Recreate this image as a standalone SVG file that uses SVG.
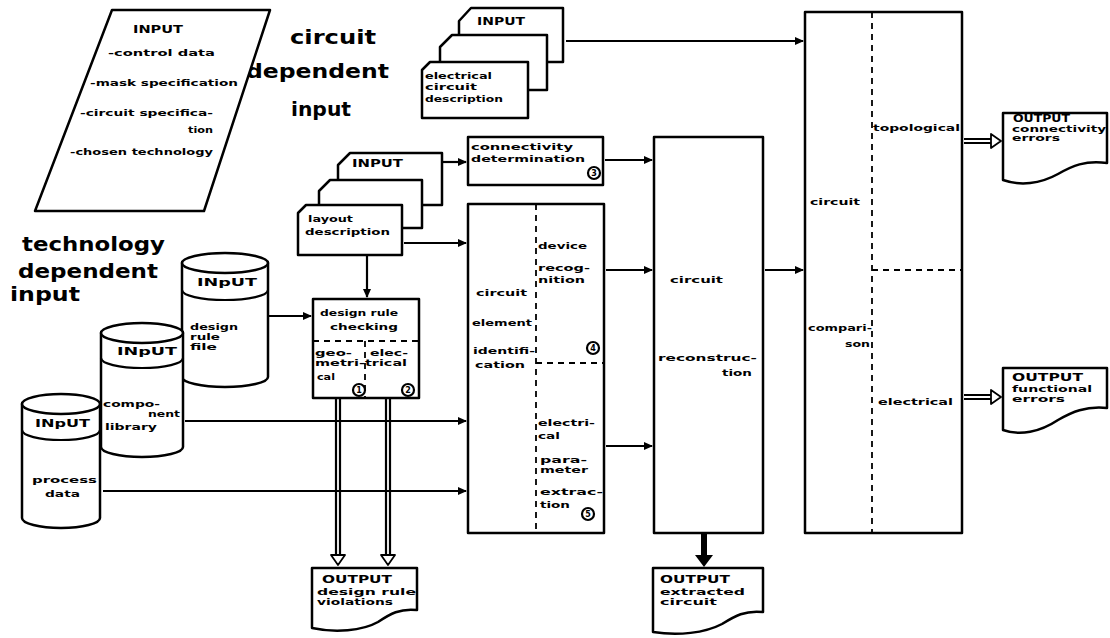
<svg xmlns="http://www.w3.org/2000/svg" width="1110" height="638" viewBox="0 0 1110 638">
<defs>
<style>
.o{fill:#fff;stroke:#000;stroke-width:2.5;stroke-linejoin:round}
.l{fill:none;stroke:#000;stroke-width:2.2}
.d{fill:none;stroke:#000;stroke-width:1.8;stroke-dasharray:6 5}
.w{fill:#fff;stroke:#000;stroke-width:1.8;stroke-linejoin:round}
text{font-family:"DejaVu Sans","Liberation Sans",sans-serif;font-weight:bold;fill:#000}
.s{font-size:9.5px}
.m{font-size:11px}
.b{font-size:20px}
.n{font-size:8px;text-anchor:middle}
.e{text-anchor:end}
.c{fill:#fff;stroke:#000;stroke-width:2.2}
</style>
<marker id="a" markerWidth="9" markerHeight="8" refX="8" refY="4" orient="auto" markerUnits="userSpaceOnUse"><path d="M0,0 L9,4 L0,8 Z" fill="#000"/></marker>
</defs>
<rect width="1110" height="638" fill="#fff"/>

<g id="title-circuit">
<text class="b" x="290" y="44" textLength="86" lengthAdjust="spacingAndGlyphs">circuit</text>
<text class="b" x="246" y="78" textLength="143" lengthAdjust="spacingAndGlyphs">dependent</text>
<text class="b" x="291" y="116" textLength="60" lengthAdjust="spacingAndGlyphs">input</text>
</g>
<g id="title-technology">
<text class="b" x="22" y="251" textLength="143" lengthAdjust="spacingAndGlyphs">technology</text>
<text class="b" x="18" y="278" textLength="140" lengthAdjust="spacingAndGlyphs">dependent</text>
<text class="b" x="10" y="301" textLength="70" lengthAdjust="spacingAndGlyphs">input</text>
</g>

<g id="input-general">
<path class="o" d="M112,10 L270,10 L204,211 L35,211 Z"/>
<text class="m" x="133" y="33" textLength="50" lengthAdjust="spacingAndGlyphs">INPUT</text>
<text class="s" x="108" y="56" textLength="107" lengthAdjust="spacingAndGlyphs">-control data</text>
<text class="s" x="90" y="86" textLength="148" lengthAdjust="spacingAndGlyphs">-mask specification</text>
<text class="s" x="80" y="116" textLength="133" lengthAdjust="spacingAndGlyphs">-circuit specifica-</text>
<text class="s e" x="213" y="133" textLength="25" lengthAdjust="spacingAndGlyphs">tion</text>
<text class="s" x="70" y="155" textLength="143" lengthAdjust="spacingAndGlyphs">-chosen technology</text>
</g>

<g id="connectors">
<line class="l" x1="566" y1="41" x2="803" y2="41" marker-end="url(#a)"/>
<line class="l" x1="443" y1="162" x2="466" y2="162" marker-end="url(#a)"/>
<line class="l" x1="605" y1="160" x2="652" y2="160" marker-end="url(#a)"/>
<line class="l" x1="404" y1="243" x2="466" y2="243" marker-end="url(#a)"/>
<line class="l" x1="367" y1="256" x2="367" y2="297" marker-end="url(#a)"/>
<line class="l" x1="268" y1="316" x2="311" y2="316" marker-end="url(#a)"/>
<line class="l" x1="606" y1="270" x2="652" y2="270" marker-end="url(#a)"/>
<line class="l" x1="606" y1="446" x2="652" y2="446" marker-end="url(#a)"/>
<line class="l" x1="765" y1="270" x2="803" y2="270" marker-end="url(#a)"/>
<path class="l" d="M336,399 V556 M340,399 V556 M386,399 V556 M390,399 V556" stroke-width="1.8"/>
<path class="w" d="M331,555 H345 L338,565 Z M381,555 H395 L388,565 Z"/>
<line class="l" x1="185" y1="421" x2="466" y2="421" marker-end="url(#a)"/>
<line class="l" x1="103" y1="491" x2="466" y2="491" marker-end="url(#a)"/>
<path class="l" d="M964,139 H992 M964,143 H992 M964,395 H992 M964,399 H992" stroke-width="1.8"/>
<path class="w" d="M991,134 L1001,141 L991,148 Z M991,390 L1001,397 L991,404 Z"/>
<rect x="701" y="534" width="6" height="22" fill="#000"/>
<path d="M695,555 H713 L704,567 Z" fill="#000"/>
</g>

<g id="input-electrical-circuit">
<path class="o" d="M459,21 L471,8 H563 V62 H459 Z"/>
<path class="o" d="M440,47 L452,35 H547 V90 H440 Z"/>
<path class="o" d="M422,70 L430,62 H528 V118 H422 Z"/>
<text class="m" x="477" y="25" textLength="48" lengthAdjust="spacingAndGlyphs">INPUT</text>
<text class="s" x="425" y="79" textLength="67" lengthAdjust="spacingAndGlyphs">electrical</text>
<text class="s" x="425" y="90" textLength="52" lengthAdjust="spacingAndGlyphs">circuit</text>
<text class="s" x="425" y="102" textLength="78" lengthAdjust="spacingAndGlyphs">description</text>
</g>

<g id="input-layout">
<path class="o" d="M338,165 L350,153 H442 V205 H338 Z"/>
<path class="o" d="M319,191 L330,180 H422 V228 H319 Z"/>
<path class="o" d="M298,213 L306,205 H402 V255 H298 Z"/>
<text class="m" x="352" y="167" textLength="51" lengthAdjust="spacingAndGlyphs">INPUT</text>
<text class="s" x="308" y="222" textLength="45" lengthAdjust="spacingAndGlyphs">layout</text>
<text class="s" x="305" y="235" textLength="85" lengthAdjust="spacingAndGlyphs">description</text>
</g>

<g id="connectivity">
<rect class="o" x="468" y="137" width="135" height="48"/>
<text class="s" x="471" y="150" textLength="102" lengthAdjust="spacingAndGlyphs">connectivity</text>
<text class="s" x="471" y="162" textLength="114" lengthAdjust="spacingAndGlyphs">determination</text>
<circle class="c" cx="594" cy="173" r="6"/><text class="n" x="594" y="176">3</text>
</g>

<g id="design-rule-file">
<path class="o" d="M182,263 V377 A43,10 0 0 0 268,377 V263 Z"/>
<ellipse class="o" cx="225" cy="263" rx="43" ry="10"/>
<path class="l" d="M182,290 A43,10 0 0 0 268,290"/>
<text class="m" x="197" y="286" textLength="60" lengthAdjust="spacingAndGlyphs">INpUT</text>
<text class="s" x="190" y="330" textLength="48" lengthAdjust="spacingAndGlyphs">design</text>
<text class="s" x="190" y="340" textLength="30" lengthAdjust="spacingAndGlyphs">rule</text>
<text class="s" x="190" y="350" textLength="27" lengthAdjust="spacingAndGlyphs">file</text>
</g>

<g id="component-library">
<path class="o" d="M101,333 V447 A41,10 0 0 0 183,447 V333 Z"/>
<ellipse class="o" cx="142" cy="333" rx="41" ry="10"/>
<path class="l" d="M101,358 A41,10 0 0 0 183,358"/>
<text class="m" x="117" y="355" textLength="60" lengthAdjust="spacingAndGlyphs">INpUT</text>
<text class="s" x="103" y="407" textLength="57" lengthAdjust="spacingAndGlyphs">compo-</text>
<text class="s e" x="180" y="417" textLength="32" lengthAdjust="spacingAndGlyphs">nent</text>
<text class="s" x="105" y="430" textLength="52" lengthAdjust="spacingAndGlyphs">library</text>
</g>

<g id="process-data">
<path class="o" d="M22,404 V518 A39,10 0 0 0 100,518 V404 Z"/>
<ellipse class="o" cx="61" cy="404" rx="39" ry="10"/>
<path class="l" d="M22,430 A39,10 0 0 0 100,430"/>
<text class="m" x="35" y="427" textLength="55" lengthAdjust="spacingAndGlyphs">INpUT</text>
<text class="s" x="32" y="483" textLength="65" lengthAdjust="spacingAndGlyphs">process</text>
<text class="s" x="45" y="497" textLength="35" lengthAdjust="spacingAndGlyphs">data</text>
</g>

<g id="design-rule-checking">
<rect class="o" x="313" y="299" width="106" height="99"/>
<line class="d" x1="313" y1="341" x2="419" y2="341"/>
<line class="d" x1="365" y1="341" x2="365" y2="398"/>
<text class="s" x="320" y="316" textLength="78" lengthAdjust="spacingAndGlyphs">design rule</text>
<text class="s" x="330" y="330" textLength="68" lengthAdjust="spacingAndGlyphs">checking</text>
<text class="s" x="315" y="356" textLength="37" lengthAdjust="spacingAndGlyphs">geo-</text>
<text class="s" x="370" y="356" textLength="38" lengthAdjust="spacingAndGlyphs">elec-</text>
<text class="s" x="315" y="366" textLength="50" lengthAdjust="spacingAndGlyphs">metri-</text>
<text class="s" x="365" y="366" textLength="42" lengthAdjust="spacingAndGlyphs">trical</text>
<text class="s" x="317" y="380" textLength="18" lengthAdjust="spacingAndGlyphs">cal</text>
<circle class="c" cx="359" cy="390" r="6"/><text class="n" x="359" y="393">1</text>
<circle class="c" cx="408" cy="390" r="6"/><text class="n" x="408" y="393">2</text>
</g>

<g id="circuit-element-identification">
<rect class="o" x="468" y="204" width="136" height="329"/>
<line class="d" x1="536" y1="204" x2="536" y2="533"/>
<line class="d" x1="536" y1="363" x2="604" y2="363"/>
<text class="s" x="538" y="249" textLength="49" lengthAdjust="spacingAndGlyphs">device</text>
<text class="s" x="538" y="271" textLength="52" lengthAdjust="spacingAndGlyphs">recog-</text>
<text class="s" x="538" y="283" textLength="47" lengthAdjust="spacingAndGlyphs">nition</text>
<text class="s" x="476" y="296" textLength="51" lengthAdjust="spacingAndGlyphs">circuit</text>
<text class="s" x="472" y="326" textLength="60" lengthAdjust="spacingAndGlyphs">element</text>
<text class="s" x="473" y="354" textLength="62" lengthAdjust="spacingAndGlyphs">identifi-</text>
<text class="s" x="475" y="368" textLength="50" lengthAdjust="spacingAndGlyphs">cation</text>
<circle class="c" cx="593" cy="348" r="6"/><text class="n" x="593" y="351">4</text>
<text class="s" x="538" y="426" textLength="57" lengthAdjust="spacingAndGlyphs">electri-</text>
<text class="s" x="538" y="439" textLength="22" lengthAdjust="spacingAndGlyphs">cal</text>
<text class="s" x="540" y="463" textLength="47" lengthAdjust="spacingAndGlyphs">para-</text>
<text class="s" x="540" y="473" textLength="48" lengthAdjust="spacingAndGlyphs">meter</text>
<text class="s" x="540" y="495" textLength="63" lengthAdjust="spacingAndGlyphs">extrac-</text>
<text class="s" x="540" y="508" textLength="30" lengthAdjust="spacingAndGlyphs">tion</text>
<circle class="c" cx="588" cy="514" r="6"/><text class="n" x="588" y="517">5</text>
</g>

<g id="circuit-reconstruction">
<rect class="o" x="654" y="137" width="109" height="396"/>
<text class="s" x="670" y="283" textLength="53" lengthAdjust="spacingAndGlyphs">circuit</text>
<text class="s" x="658" y="361" textLength="99" lengthAdjust="spacingAndGlyphs">reconstruc-</text>
<text class="s e" x="752" y="376" textLength="30" lengthAdjust="spacingAndGlyphs">tion</text>
</g>

<g id="circuit-comparison">
<rect class="o" x="805" y="12" width="157" height="521"/>
<line class="d" x1="872" y1="12" x2="872" y2="533"/>
<line class="d" x1="872" y1="270" x2="962" y2="270"/>
<text class="s" x="873" y="131" textLength="87" lengthAdjust="spacingAndGlyphs">topological</text>
<text class="s" x="810" y="205" textLength="50" lengthAdjust="spacingAndGlyphs">circuit</text>
<text class="s" x="808" y="331" textLength="64" lengthAdjust="spacingAndGlyphs">compari-</text>
<text class="s e" x="870" y="347" textLength="25" lengthAdjust="spacingAndGlyphs">son</text>
<text class="s" x="878" y="405" textLength="75" lengthAdjust="spacingAndGlyphs">electrical</text>
</g>

<g id="output-connectivity-errors">
<path class="o" d="M1003,113 H1107 V163 C1085,160 1072,166 1058,174 C1040,184 1020,186 1003,180 Z"/>
<text class="m" x="1013" y="122" textLength="57" lengthAdjust="spacingAndGlyphs">OUTPUT</text>
<text class="s" x="1012" y="132" textLength="94" lengthAdjust="spacingAndGlyphs">connectivity</text>
<text class="s" x="1012" y="141" textLength="48" lengthAdjust="spacingAndGlyphs">errors</text>
</g>

<g id="output-functional-errors">
<path class="o" d="M1003,368 H1107 V408 C1085,406 1072,412 1058,420 C1040,432 1020,436 1003,430 Z"/>
<text class="m" x="1012" y="381" textLength="71" lengthAdjust="spacingAndGlyphs">OUTPUT</text>
<text class="s" x="1012" y="392" textLength="80" lengthAdjust="spacingAndGlyphs">functional</text>
<text class="s" x="1012" y="402" textLength="53" lengthAdjust="spacingAndGlyphs">errors</text>
</g>

<g id="output-design-rule-violations">
<path class="o" d="M312,568 H417 V610 C400,608 390,614 378,622 C362,631 335,633 312,628 Z"/>
<text class="m" x="322" y="583" textLength="70" lengthAdjust="spacingAndGlyphs">OUTPUT</text>
<text class="s" x="317" y="595" textLength="99" lengthAdjust="spacingAndGlyphs">design rule</text>
<text class="s" x="317" y="605" textLength="76" lengthAdjust="spacingAndGlyphs">violations</text>
</g>

<g id="output-extracted-circuit">
<path class="o" d="M653,568 H763 V612 C745,610 735,616 722,624 C705,633 678,636 653,632 Z"/>
<text class="m" x="660" y="583" textLength="70" lengthAdjust="spacingAndGlyphs">OUTPUT</text>
<text class="s" x="660" y="595" textLength="85" lengthAdjust="spacingAndGlyphs">extracted</text>
<text class="s" x="660" y="605" textLength="57" lengthAdjust="spacingAndGlyphs">circuit</text>
</g>
</svg>
